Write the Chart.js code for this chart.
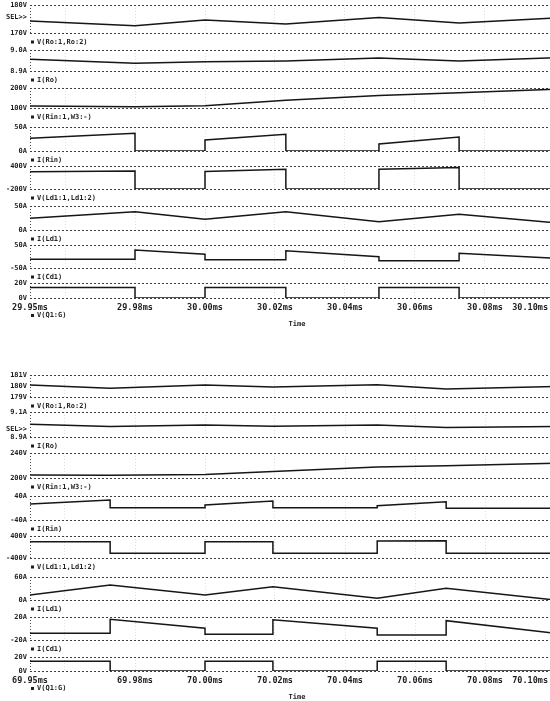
<!DOCTYPE html>
<html>
<head>
<meta charset="utf-8">
<script src="https://cdn.jsdelivr.net/npm/chart.js@4.4.0/dist/chart.umd.min.js"></script>
<style>
html, body { margin:0; padding:0; background:#fff; overflow:hidden; }
#wrap { position:relative; width:550px; height:701px; overflow:hidden; background:#fff; }
canvas { position:absolute; left:0; }
</style>
</head>
<body>
<div id="wrap"></div>
<script>
// ---------- upper window: 29.95ms .. 30.10ms ----------
var tTop = [29.95, 29.98, 29.98, 30.0, 30.0, 30.0231, 30.0231, 30.0497, 30.0497, 30.0726, 30.0726, 30.10];
var roVoltTop = [174.3, 172.6, 172.6, 174.6, 174.6, 173.2, 173.2, 175.5, 175.5, 173.6, 173.6, 175.4];
var roCurTop = [8.956, 8.937, 8.937, 8.944, 8.944, 8.948, 8.948, 8.962, 8.962, 8.948, 8.948, 8.963];
var rinVoltTop = [110, 106.5, 106.5, 111.5, 111.5, 139, 139, 162, 162, 176, 176, 194];
var rinCurTop = [26.5, 36.9, 0, 0, 22.9, 34.8, 0, 0, 14.6, 29.2, 0, 0];
var ldVoltTop = [251, 270, -200, -200, 255, 314, -200, -200, 314, 362, -200, -200];
var ldCurTop = [24.4, 38.1, 38.1, 22.3, 22.3, 38.1, 38.1, 17.3, 17.3, 32.7, 32.7, 15.2];
var cdCurTop = [-12, -12, 28.3, 9.6, -14, -14, 25.2, -0.9, -18, -18, 13.9, -7.8];
var gateTop = [14, 14, 0, 0, 14, 14, 0, 0, 14, 14, 0, 0];
var xLabelValsTop = [29.95, 29.98, 30.00, 30.02, 30.04, 30.06, 30.08, 30.10];
var xLabelsTop = ['29.95ms', '29.98ms', '30.00ms', '30.02ms', '30.04ms', '30.06ms', '30.08ms', '30.10ms'];
var xGridTop = [29.95, 29.96, 29.98, 30.00, 30.02, 30.04, 30.06, 30.08];

// ---------- lower window: 69.95ms .. 70.10ms ----------
var tBot = [69.95, 69.9729, 69.9729, 70.0, 70.0, 70.0194, 70.0194, 70.0492, 70.0492, 70.0689, 70.0689, 70.10];
var roVoltBot = [180.09, 179.79, 179.79, 180.09, 180.09, 179.91, 179.91, 180.11, 180.11, 179.73, 179.73, 179.95];
var roCurBot = [9.002, 8.985, 8.985, 8.996, 8.996, 8.986, 8.986, 8.995, 8.995, 8.976, 8.976, 8.985];
var rinVoltBot = [204.8, 204.5, 204.5, 205.5, 205.5, 210.5, 210.5, 217.5, 217.5, 219.5, 219.5, 223.5];
var rinCurBot = [13.3, 26.7, 1, 1, 10, 23.3, 0.5, 0.5, 7.7, 21, -0.5, -0.5];
var ldVoltBot = [193, 193, -229, -229, 193, 193, -229, -229, 215, 229, -229, -229];
var ldCurBot = [13, 39.1, 39.1, 13, 13, 34.7, 34.7, 4.4, 4.4, 30.5, 30.5, 0];
var cdCurBot = [-8.3, -8.3, 16, 0.4, -10.1, -10.1, 15, 0.4, -11.3, -11.3, 13.6, -8.3];
var gateBot = [14, 14, 0, 0, 14, 14, 0, 0, 14, 14, 0, 0];
var xLabelValsBot = [69.95, 69.98, 70.00, 70.02, 70.04, 70.06, 70.08, 70.10];
var xLabelsBot = ['69.95ms', '69.98ms', '70.00ms', '70.02ms', '70.04ms', '70.06ms', '70.08ms', '70.10ms'];
var xGridBot = [69.95, 69.96, 69.98, 70.00, 70.02, 70.04, 70.06, 70.08];

// trace names and y axis ticks
var traceNames = ['V(Ro:1,Ro:2)', 'I(Ro)', 'V(Rin:1,W3:-)', 'I(Rin)', 'V(Ld1:1,Ld1:2)', 'I(Ld1)', 'I(Cd1)', 'V(Q1:G)'];
var yTicksTop = [[170, 180], [8.9, 9.0], [100, 200], [0, 50], [-200, 400], [0, 50], [-50, 50], [0, 20]];
var yLabelsTop = [['170V', '180V'], ['8.9A', '9.0A'], ['100V', '200V'], ['0A', '50A'], ['-200V', '400V'], ['0A', '50A'], ['-50A', '50A'], ['0V', '20V']];
var yTicksBot = [[179, 180, 181], [8.9, 9.1], [200, 240], [-40, 40], [-400, 400], [0, 60], [-20, 20], [0, 20]];
var yLabelsBot = [['179V', '180V', '181V'], ['8.9A', '9.1A'], ['200V', '240V'], ['-40A', '40A'], ['-400V', '400V'], ['0A', '60A'], ['-20A', '20A'], ['0V', '20V']];

// layout: pixel rows (top, bottom) of every plot
var rowsTop = [[5, 33], [50, 71], [88, 108], [127, 151], [166, 189], [206, 230], [245, 268], [283, 298]];
var rowsBot = [[375, 397], [412, 437], [453, 478], [496, 520], [536, 558], [577, 600], [617, 640], [657, 671]];

var wrap = document.getElementById('wrap');
var FONT = 'bold 7px "DejaVu Sans Mono", monospace';
var INK = '#1e1e1e';

function makePlot(vals, times, ticks, labels, name, row, panel, idx, selFrac) {
	var isLast = idx == 7;
	var padTop = 10, padBot = isLast ? 36 : 14;
	var cv = document.createElement('canvas');
	cv.width = 556;
	cv.height = row[1] - row[0] + padTop + padBot;
	cv.style.top = (row[0] - padTop) + 'px';
	wrap.appendChild(cv);

	var pts = [];
	for (var i = 0; i < times.length; i++)
		pts.push({x: times[i], y: vals[i]});

	var txt = {
		id: 'txt' + idx,
		afterDraw: function(chart) {
			var c = chart.ctx, a = chart.chartArea, sy = chart.scales.y, sx = chart.scales.x;
			c.save();
			c.font = FONT;
			c.fillStyle = INK;
			c.textBaseline = 'middle';
			c.textAlign = 'right';
			for (var k = 0; k < ticks.length; k++)
				c.fillText(labels[k], 27, sy.getPixelForValue(ticks[k]));
			if (selFrac != null)
				c.fillText('SEL>>', 27, a.top + selFrac * (a.bottom - a.top));
			c.textAlign = 'left';
			var ly = a.bottom + (isLast ? 17.5 : 9);
			c.fillRect(31, ly - 1.5, 3, 3);
			c.fillText(name, 37, ly);
			if (isLast) {
				c.font = 'bold 8.5px "DejaVu Sans Mono", monospace';
				c.textAlign = 'center';
				for (var j = 0; j < panel.xVals.length; j++) {
					var w = c.measureText(panel.xLabels[j]).width;
					var px = sx.getPixelForValue(panel.xVals[j]);
					if (px + w / 2 > 548) px = 548 - w / 2;
					c.fillText(panel.xLabels[j], px, a.bottom + 9.5);
				}
				c.font = FONT;
				c.fillText('Time', 297, a.bottom + 26);
			}
			c.restore();
		}
	};

	new Chart(cv.getContext('2d'), {
		type: 'line',
		data: { datasets: [{ data: pts, borderColor: '#161616', borderWidth: 1.5, pointRadius: 0, tension: 0, fill: false }] },
		options: {
			animation: false,
			responsive: false,
			devicePixelRatio: 1,
			layout: { padding: { left: 0, right: 1, top: padTop, bottom: padBot } },
			plugins: { legend: { display: false }, tooltip: { enabled: false } },
			scales: {
				x: {
					type: 'linear', min: times[0], max: times[times.length - 1],
					ticks: { display: false },
					grid: {
						drawTicks: false, lineWidth: 1,
						color: function(ctx) { return ctx.index == 0 ? '#4a4a4a' : 'rgba(0,0,0,0.13)'; }
					},
					border: { display: false, dash: [1, 2] },
					afterBuildTicks: function(s) { s.ticks = panel.xGrid.map(function(v) { return {value: v}; }); },
					afterFit: function(s) { s.height = 0; }
				},
				y: {
					min: ticks[0], max: ticks[ticks.length - 1],
					ticks: { display: false },
					grid: {
						drawTicks: false, lineWidth: 1,
						color: function(ctx) { return (ctx.index == 0 || ctx.index == ticks.length - 1) ? '#3c3c3c' : 'rgba(0,0,0,0)'; }
					},
					border: { display: false, dash: [2, 2] },
					afterBuildTicks: function(s) { s.ticks = ticks.map(function(v) { return {value: v}; }); },
					afterFit: function(s) { s.width = 30; }
				}
			}
		},
		plugins: [txt]
	});
}

var topPanel = { xVals: xLabelValsTop, xLabels: xLabelsTop, xGrid: xGridTop };
var botPanel = { xVals: xLabelValsBot, xLabels: xLabelsBot, xGrid: xGridBot };

var topSeries = [roVoltTop, roCurTop, rinVoltTop, rinCurTop, ldVoltTop, ldCurTop, cdCurTop, gateTop];
var botSeries = [roVoltBot, roCurBot, rinVoltBot, rinCurBot, ldVoltBot, ldCurBot, cdCurBot, gateBot];

for (var p = 0; p < 8; p++) {
	makePlot(topSeries[p], tTop, yTicksTop[p], yLabelsTop[p], traceNames[p], rowsTop[p], topPanel, p, p == 0 ? 0.45 : null);
	makePlot(botSeries[p], tBot, yTicksBot[p], yLabelsBot[p], traceNames[p], rowsBot[p], botPanel, p, p == 1 ? 0.68 : null);
}
</script>
</body>
</html>
